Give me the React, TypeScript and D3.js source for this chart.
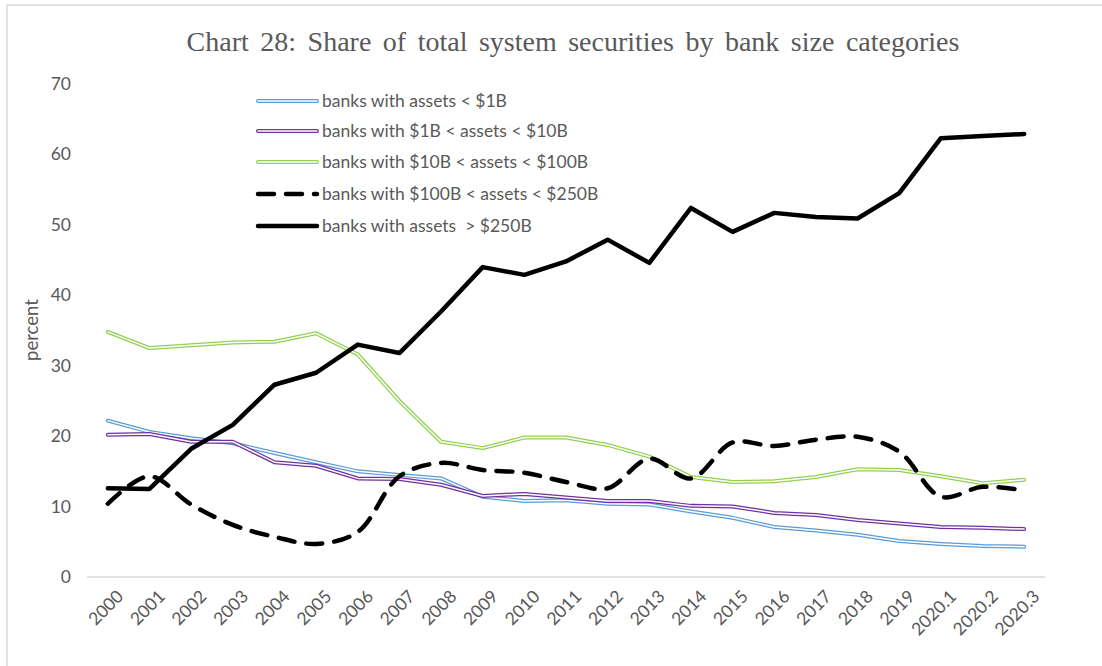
import React from "react";
import * as d3 from "d3";

const categories = ["2000","2001","2002","2003","2004","2005","2006","2007","2008","2009","2010","2011","2012","2013","2014","2015","2016","2017","2018","2019","2020.1","2020.2","2020.3"];

const under1B = [22.2,20.6,19.7,19.0,17.6,16.3,15.0,14.5,14.0,11.4,10.8,10.9,10.4,10.3,9.3,8.4,7.1,6.6,6.0,5.1,4.7,4.4,4.3];
const from1to10B = [20.2,20.3,19.2,19.2,16.3,15.8,14.0,13.9,13.1,11.5,11.8,11.3,10.8,10.8,10.1,10.0,9.1,8.8,8.1,7.6,7.1,7.0,6.8];
const from10to100B = [34.8,32.5,32.9,33.3,33.4,34.6,31.6,25.0,19.2,18.3,19.8,19.8,18.75,17.1,14.2,13.5,13.6,14.2,15.3,15.2,14.3,13.3,13.8];
const from100to250B = [10.4,14.3,10.3,7.4,5.7,4.7,6.4,14.3,16.2,15.2,14.8,13.5,12.6,16.8,14.0,19.1,18.6,19.5,19.9,17.8,11.4,12.8,12.3];
const over250B = [12.6,12.5,18.2,21.6,27.3,29.0,33.0,31.8,37.7,44.0,42.9,44.8,47.9,44.6,52.4,49.0,51.7,51.1,50.9,54.5,62.3,62.6,62.9];

const yTicks = [0,10,20,30,40,50,60,70];

const seriesNames = [
  "banks with assets < $1B",
  "banks with $1B < assets < $10B",
  "banks with $10B < assets < $100B",
  "banks with $100B < assets < $250B",
  "banks with assets  > $250B",
];

type Style = { color: string; kind: "double" | "dash" | "solid" };
const styles: Style[] = [
  { color: "#5b9bd5", kind: "double" },
  { color: "#7030a0", kind: "double" },
  { color: "#92d050", kind: "double" },
  { color: "#000000", kind: "dash" },
  { color: "#000000", kind: "solid" },
];

const seriesValues = [under1B, from1to10B, from10to100B, from100to250B, over250B];

export default function App() {
  const W = 1102, H = 666;
  const left = 87, right = 1045, top = 84, bottom = 577;
  const x = d3.scaleBand<string>().domain(categories).range([left, right]).paddingInner(0).paddingOuter(0);
  const y = d3.scaleLinear().domain([0, 70]).range([bottom, top]);
  const cx = (c: string) => (x(c) as number) + x.bandwidth() / 2;

  const lineLinear = d3.line<number>().x((_, i) => cx(categories[i])).y((v) => y(v));
  const lineSmooth = d3.line<number>().x((_, i) => cx(categories[i])).y((v) => y(v)).curve(d3.curveCatmullRom.alpha(0.5));

  const textColor = "#595959";
  const sans = "Lato, 'Open Sans', 'Liberation Sans', sans-serif";

  const renderLine = (d: string, s: Style, key: string) => {
    if (s.kind === "double") {
      return (
        <g key={key}>
          <path d={d} fill="none" stroke={s.color} strokeWidth={4} strokeLinejoin="round" strokeLinecap="round" />
          <path d={d} fill="none" stroke="#ffffff" strokeWidth={1.5} strokeLinejoin="round" strokeLinecap="round" />
        </g>
      );
    }
    if (s.kind === "dash") {
      return <path key={key} d={d} fill="none" stroke={s.color} strokeWidth={4.5} strokeDasharray="16 12" strokeLinecap="round" />;
    }
    return <path key={key} d={d} fill="none" stroke={s.color} strokeWidth={4.5} strokeLinejoin="round" strokeLinecap="round" />;
  };

  const legendX0 = 258, legendX1 = 317;
  const legendY = [101, 131, 162, 194, 226];

  return (
    <svg width={W} height={H} style={{ position: "absolute", left: 0, top: 0 }}>
      <rect x={0} y={0} width={W} height={H} fill="#ffffff" />
      <rect x={7} y={5} width={1200} height={800} fill="#ffffff" stroke="#d9d9d9" strokeWidth={1.5} />
      <text x={573} y={51} textAnchor="middle" fontFamily="'Liberation Serif', 'Times New Roman', serif" fontSize={28} fill={textColor} wordSpacing={4.5}>
        Chart 28: Share of total system securities by bank size categories
      </text>
      {yTicks.map((t) => (
        <text key={t} x={71} y={y(t) + 6} textAnchor="end" fontFamily={sans} fontSize={17.5} fill={textColor}>{t}</text>
      ))}
      <text transform={`translate(38,330) rotate(-90)`} textAnchor="middle" fontFamily={sans} fontSize={18.5} fill={textColor}>percent</text>
      <line x1={left} x2={right} y1={bottom} y2={bottom} stroke="#d9d9d9" strokeWidth={1.5} />
      {categories.map((c) => (
        <text key={c} transform={`translate(${cx(c) + 7},${bottom + 11}) rotate(-45)`} textAnchor="end" dominantBaseline="hanging" fontFamily={sans} fontSize={17.5} fill={textColor}>{c}</text>
      ))}
      {seriesValues.map((vals, i) =>
        renderLine((styles[i].kind === "dash" ? lineSmooth : lineLinear)(vals) as string, styles[i], "s" + i)
      )}
      {seriesNames.map((n, i) => (
        <g key={n}>
          {renderLine(`M${legendX0},${legendY[i]}L${legendX1},${legendY[i]}`, styles[i], "l" + i)}
          <text x={legendX1 + 5} y={legendY[i] + 6} fontFamily={sans} fontSize={17.5} fill={textColor} style={{ whiteSpace: "pre" }}>{n}</text>
        </g>
      ))}
    </svg>
  );
}
